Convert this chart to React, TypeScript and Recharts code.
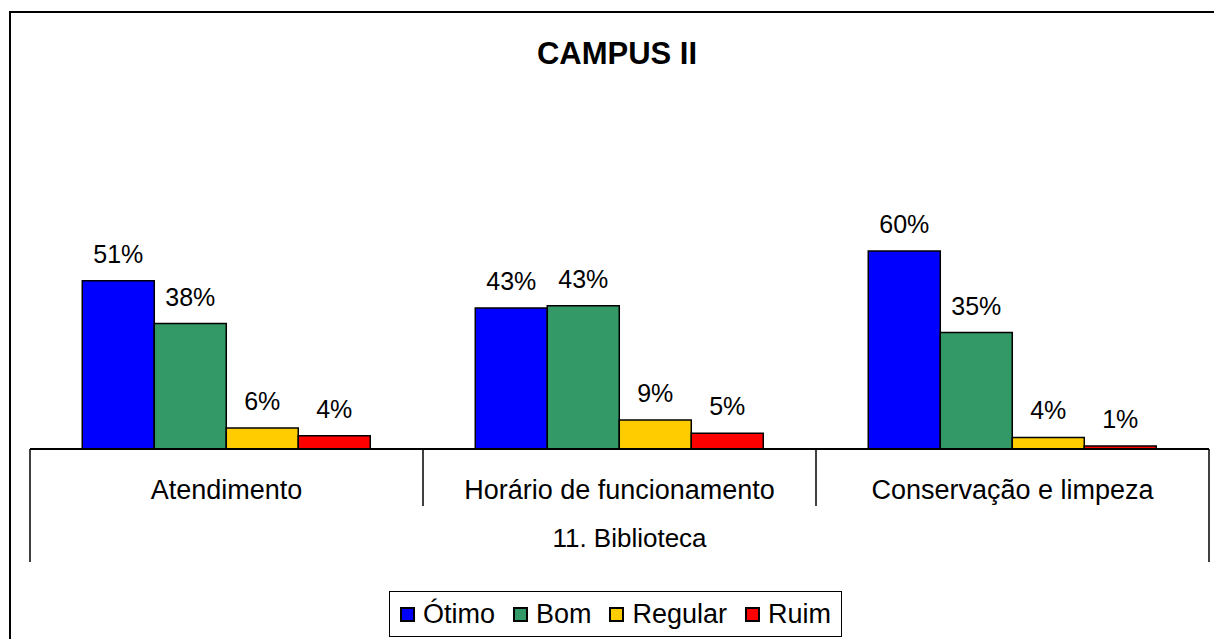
import { BarChart, Bar, XAxis, YAxis, LabelList } from "recharts";

const title = "CAMPUS II";
const groupLabel = "11. Biblioteca";
const categories = ["Atendimento", "Horário de funcionamento", "Conservação e limpeza"];
const otimo = [51, 42.7, 60];
const bom = [38, 43.4, 35.3];
const regular = [6.4, 8.8, 3.5];
const ruim = [4.0, 4.8, 0.9];

const series = [
  { key: "otimo", name: "Ótimo", color: "#0000ff" },
  { key: "bom", name: "Bom", color: "#339966" },
  { key: "regular", name: "Regular", color: "#ffcc00" },
  { key: "ruim", name: "Ruim", color: "#ff0000" },
];

const data = categories.map((name, i) => ({
  name,
  otimo: otimo[i],
  bom: bom[i],
  regular: regular[i],
  ruim: ruim[i],
}));

const W = 1214;
const H = 639;
const LEFT = 30;
const RIGHT = 1209;
const TOP = 218;
const BOTTOM = 449;
const AXIS_H = 40;
const FONT = "'Liberation Sans', Arial, sans-serif";

const halfBand = (RIGHT - LEFT) / categories.length / 2;

const CategoryTick = ({ x, payload, index }: any) => {
  const i = payload?.index ?? index;
  const left = x - halfBand;
  const right = x + halfBand;
  const last = i === categories.length - 1;
  return (
    <g>
      <line x1={left} y1={BOTTOM} x2={left} y2={i === 0 ? 562 : 506} stroke="#000" strokeWidth={1.5} />
      {last && <line x1={right} y1={BOTTOM} x2={right} y2={562} stroke="#000" strokeWidth={1.5} />}
      <text x={x} y={499} textAnchor="middle" fontSize={27} fontFamily={FONT} fill="#000">
        {payload.value}
      </text>
      {i === 1 && (
        <text x={x + 10} y={547} textAnchor="middle" fontSize={26} fontFamily={FONT} fill="#000">
          {groupLabel}
        </text>
      )}
    </g>
  );
};

const PctLabel = ({ x, y, width, value }: any) => (
  <text
    x={x + width / 2}
    y={y - 18}
    textAnchor="middle"
    fontSize={25}
    fontFamily={FONT}
    fill="#000"
  >
    {`${Math.round(value)}%`}
  </text>
);

export default function App() {
  return (
    <div
      style={{
        position: "fixed",
        left: 0,
        top: 0,
        width: W,
        height: H,
        overflow: "hidden",
        background: "#fff",
      }}
    >
      <div
        style={{
          position: "absolute",
          left: 9,
          top: 11,
          width: W + 20,
          height: H + 20,
          border: "2px solid #000",
        }}
      />
      <div style={{ position: "absolute", left: 0, top: 0 }}>
        <BarChart
          width={W}
          height={H}
          data={data}
          margin={{ top: TOP, right: W - RIGHT, bottom: H - BOTTOM - AXIS_H, left: LEFT }}
          barCategoryGap="13.3%"
          barGap={0}
        >
          <text
            x={617}
            y={64}
            textAnchor="middle"
            fontSize={31}
            fontWeight="bold"
            fontFamily={FONT}
            fill="#000"
          >
            {title}
          </text>
          <YAxis hide domain={[0, 70]} />
          <XAxis
            dataKey="name"
            height={AXIS_H}
            axisLine={{ stroke: "#000", strokeWidth: 2 }}
            tickLine={false}
            interval={0}
            tick={<CategoryTick />}
          />
          {series.map((s) => (
            <Bar
              key={s.key}
              dataKey={s.key}
              name={s.name}
              fill={s.color}
              stroke="#000"
              strokeWidth={1.5}
              isAnimationActive={false}
            >
              <LabelList dataKey={s.key} content={<PctLabel />} />
            </Bar>
          ))}
        </BarChart>
      </div>
      <div
        style={{
          position: "absolute",
          left: 389,
          top: 591,
          width: 453,
          height: 46,
          boxSizing: "border-box",
          border: "1.5px solid #000",
          background: "#fff",
          display: "flex",
          alignItems: "center",
          justifyContent: "center",
          fontFamily: FONT,
          fontSize: 27,
          color: "#000",
        }}
      >
        {series.map((s, i) => (
          <div
            key={s.key}
            style={{ display: "flex", alignItems: "center", marginLeft: i === 0 ? 0 : 18 }}
          >
            <span
              style={{
                display: "inline-block",
                width: 15,
                height: 15,
                boxSizing: "border-box",
                background: s.color,
                border: "2px solid #000",
                marginRight: 8,
              }}
            />
            <span>{s.name}</span>
          </div>
        ))}
      </div>
    </div>
  );
}
